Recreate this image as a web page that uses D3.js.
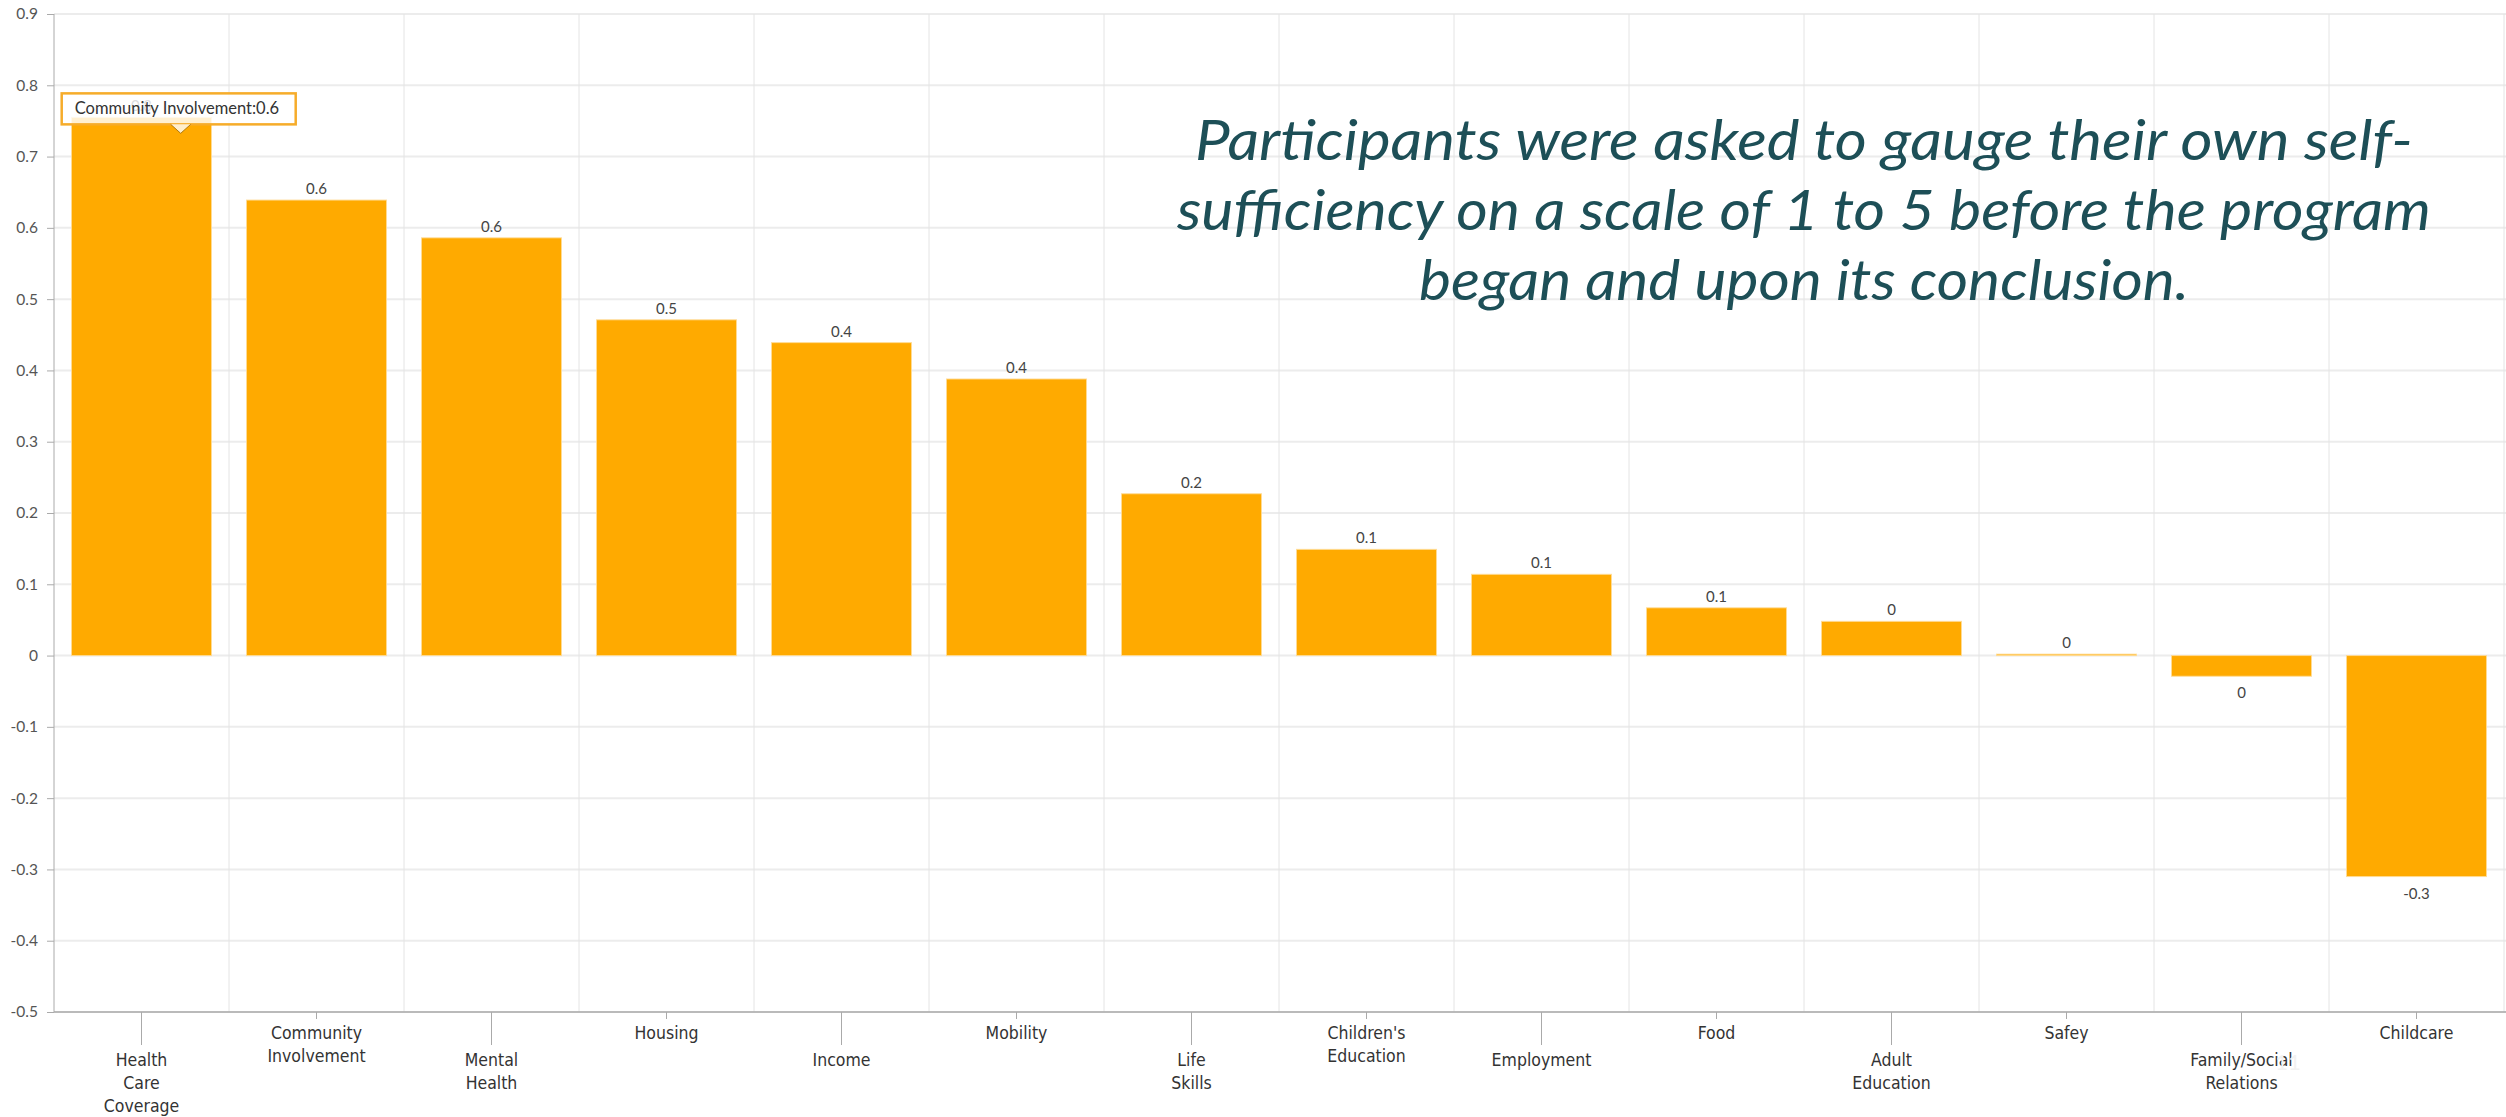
<!DOCTYPE html>
<head>
  <meta charset="utf-8">
  <script src="https://d3js.org/d3.v7.min.js"></script>
  <style>
    body { margin:0; background:#fff; }
    .ylab { font-family: "Lato", "Liberation Sans", sans-serif; font-size: 15.5px; fill:#555; }
    .xlab { font-family: "Liberation Sans Narrow", "DejaVu Sans Condensed", "Roboto", sans-serif; font-size: 17.5px; fill:#333; }
    .vlab { font-family: "Lato", "Liberation Sans", sans-serif; font-size: 15px; fill:#444; }
    .note { font-family: "Lato", "Open Sans", sans-serif; font-style: italic; font-size: 56px; fill:#1d4f57; }
  </style>
</head>
<body>
<svg id="chart" width="2506" height="1117"></svg>
<script>
// categories, changes in self-sufficiency score (after - before)
var categories = ["Health Care Coverage", "Community Involvement", "Mental Health", "Housing",
  "Income", "Mobility", "Life Skills", "Children's Education", "Employment", "Food",
  "Adult Education", "Safey", "Family/Social Relations", "Childcare"];
var values = [0.755, 0.639, 0.586, 0.471, 0.439, 0.388, 0.227, 0.149, 0.114, 0.067, 0.048, 0.002, -0.029, -0.31];
// how the tick labels break into lines
var tickLines = [["Health", "Care", "Coverage"], ["Community", "Involvement"], ["Mental", "Health"], ["Housing"],
  ["Income"], ["Mobility"], ["Life", "Skills"], ["Children's", "Education"], ["Employment"], ["Food"],
  ["Adult", "Education"], ["Safey"], ["Family/Social", "Relations"], ["Childcare"]];
var yTicks = [0.9, 0.8, 0.7, 0.6, 0.5, 0.4, 0.3, 0.2, 0.1, 0, -0.1, -0.2, -0.3, -0.4, -0.5];
var noteLines = ["Participants were asked to gauge their own self-",
  "sufficiency on a scale of 1 to 5 before the program",
  "began and upon its conclusion."];
var tooltipText = "Community Involvement:0.6";

var svg = d3.select("#chart");
var mLeft = 54, mRight = 2504, mTop = 14, mBottom = 1012;

var x = d3.scaleBand().domain(categories).range([mLeft, mRight]).paddingInner(0.2).paddingOuter(0.1);
var xb = d3.scaleBand().domain(categories).range([mLeft, mRight]).padding(0);
var y = d3.scaleLinear().domain([-0.5, 0.9]).range([mBottom, mTop]);
var fmt = function(d){ var r = Math.round(d*10)/10; return r === 0 ? "0" : String(r); };

// grid
svg.append("g").selectAll("line").data(yTicks).enter().append("line")
  .attr("x1", mLeft).attr("x2", 2506)
  .attr("y1", function(d){ return y(d); }).attr("y2", function(d){ return y(d); })
  .attr("stroke", "#ececec").attr("stroke-width", 2);
svg.append("g").selectAll("line").data(categories).enter().append("line")
  .attr("x1", function(d){ return xb(d) + xb.bandwidth(); })
  .attr("x2", function(d){ return xb(d) + xb.bandwidth(); })
  .attr("y1", mTop).attr("y2", mBottom)
  .attr("stroke", "#e4e4e4").attr("stroke-width", 1);

// y axis
var yAxis = d3.axisLeft(y).tickValues(yTicks).tickFormat(fmt).tickSize(7).tickPadding(9);
var gy = svg.append("g").attr("transform", "translate(" + mLeft + ",0)").call(yAxis);
gy.select(".domain").attr("stroke", "#aaa").attr("d", "M0," + mTop + "V" + mBottom);
gy.selectAll(".tick line").attr("stroke", "#aaa");
gy.selectAll(".tick text").attr("class", "ylab").attr("fill", null)
  .attr("font-family", null).attr("font-size", null);
gy.attr("font-family", null).attr("font-size", null);

// x axis line
svg.append("line").attr("x1", mLeft).attr("x2", 2506).attr("y1", mBottom).attr("y2", mBottom)
  .attr("stroke", "#aaa").attr("stroke-width", 1.5);

// bars
svg.append("g").selectAll("rect").data(values).enter().append("rect")
  .attr("x", function(d, i){ return x(categories[i]); })
  .attr("width", x.bandwidth())
  .attr("y", function(d){ return y(Math.max(0, d)); })
  .attr("height", function(d){ return Math.max(1, Math.abs(y(d) - y(0))); })
  .attr("fill", "#ffaa00")
  .attr("stroke", "rgba(255,220,150,0.9)").attr("stroke-width", 1);

// value labels
svg.append("g").selectAll("text").data(values).enter().append("text")
  .attr("class", "vlab")
  .attr("text-anchor", "middle")
  .attr("x", function(d, i){ return x(categories[i]) + x.bandwidth()/2; })
  .attr("y", function(d){ return d >= 0 ? y(d) - 6 : y(d) + 22; })
  .text(function(d){ return fmt(d); });

// x tick marks and staggered labels
var gx = svg.append("g");
categories.forEach(function(c, i){
  var cx = xb(c) + xb.bandwidth()/2;
  var low = i % 2 === 0;
  gx.append("line").attr("x1", cx).attr("x2", cx).attr("y1", mBottom)
    .attr("y2", mBottom + (low ? 33 : 7)).attr("stroke", "#aaa");
  var t = gx.append("text").attr("class", "xlab").attr("text-anchor", "middle")
    .attr("x", cx).attr("y", mBottom + (low ? 54 : 27));
  tickLines[i].forEach(function(s, k){
    t.append("tspan").attr("x", cx).attr("dy", k === 0 ? 0 : 23).text(s);
  });
});

// tooltip over the first bar
var tipX = x(categories[0]) + x.bandwidth()*0.78;
var tipBottom = y(values[0]) + 7;
var tip = svg.append("g");
tip.append("rect").attr("x", tipX - 119).attr("y", tipBottom - 31).attr("width", 234).attr("height", 31)
  .attr("fill", "rgba(255,255,255,0.82)").attr("stroke", "#f6ac2a").attr("stroke-width", 2.5);
tip.append("path")
  .attr("d", "M" + (tipX - 10) + "," + tipBottom + "L" + tipX + "," + (tipBottom + 9) + "L" + (tipX + 10) + "," + tipBottom)
  .attr("fill", "rgba(255,245,225,0.9)").attr("stroke", "#b07a10").attr("stroke-width", 1);
tip.append("text").attr("x", tipX - 106).attr("y", tipBottom - 10)
  .attr("font-family", "Lato, 'Liberation Sans', sans-serif").attr("font-size", 16.5).attr("fill", "#333")
  .text(tooltipText);

// annotation
var noteWidths = [1218, 1254, 770];
svg.append("g").selectAll("text").data(noteLines).enter().append("text")
  .attr("class", "note").attr("text-anchor", "middle")
  .attr("x", 1804).attr("y", function(d, i){ return 160 + i*70; })
  .attr("textLength", function(d, i){ return noteWidths[i]; })
  .attr("lengthAdjust", "spacingAndGlyphs")
  .text(function(d){ return d; });

// faint slide number
svg.append("text").attr("x", 2288).attr("y", 1070).attr("text-anchor", "middle")
  .attr("font-family", "Lato, sans-serif").attr("font-size", 22).attr("fill", "#f2f2f2").text("11");
</script>
</body>
